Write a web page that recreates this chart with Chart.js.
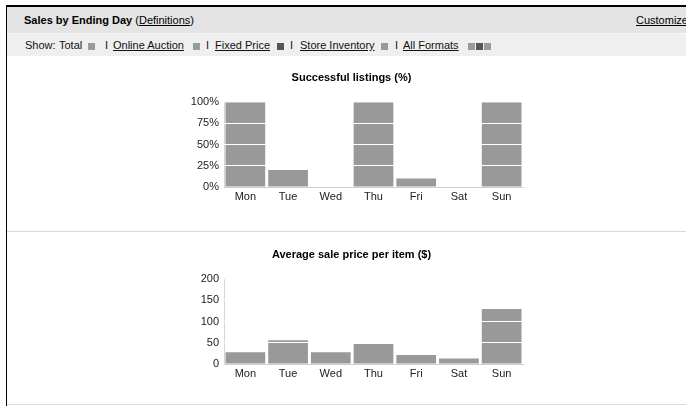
<!DOCTYPE html>
<html>
<head>
<meta charset="utf-8">
<script src="https://cdn.jsdelivr.net/npm/chart.js@4/dist/chart.umd.min.js"></script>
<style>
  html, body { margin: 0; padding: 0; background: #fff; overflow: hidden; }
  body { width: 686px; height: 406px; position: relative; font-family: "Liberation Sans", Arial, sans-serif; color: #000; }
  .frame { position: absolute; left: 6px; top: 5px; width: 760px; height: 420px; border-left: 1px solid #000; border-top: 2px solid #000; }
  .head { position: absolute; left: 0; top: 0; width: 100%; height: 26px; background: #e4e4e4; border-bottom: 1px solid #f7f7f7; }
  .head .t { position: absolute; left: 17px; top: 7px; font-size: 11px; }
  .head b { font-weight: bold; }
  .head .cust { position: absolute; left: 629px; top: 7px; font-size: 11px; }
  .show { position: absolute; left: 0; top: 27px; width: 100%; height: 22px; background: #efefef; font-size: 11px; color: #111; }
  .show span { position: absolute; top: 5px; white-space: nowrap; }
  .show .sq { top: 9px; width: 7px; height: 7px; background: #9a9a9a; }
  .show .sq.dk { background: #555; }
  u { text-decoration: underline; }
  .rule { position: absolute; left: 0; width: 100%; height: 1px; background: #d9d9d9; }
  canvas { position: absolute; }
</style>
</head>
<body>
<div class="frame">
  <div class="head">
    <span class="t"><b>Sales by Ending Day</b> (<u>Definitions</u>)</span>
    <span class="cust"><u>Customize</u></span>
  </div>
  <div class="show">
    <span style="left:18px">Show:</span>
    <span style="left:52px">Total</span>
    <span class="sq" style="left:81px"></span>
    <span style="left:98px">I</span>
    <span style="left:106px"><u>Online Auction</u></span>
    <span class="sq" style="left:186px"></span>
    <span style="left:199px">I</span>
    <span style="left:208px"><u>Fixed Price</u></span>
    <span class="sq dk" style="left:270px"></span>
    <span style="left:283px">I</span>
    <span style="left:293px"><u>Store Inventory</u></span>
    <span class="sq" style="left:374px"></span>
    <span style="left:388px">I</span>
    <span style="left:396px"><u>All Formats</u></span>
    <span class="sq" style="left:461px"></span>
    <span class="sq dk" style="left:469px"></span>
    <span class="sq" style="left:477px"></span>
  </div>
  <div class="rule" style="top:224px"></div>
  <div class="rule" style="top:397px"></div>
</div>
<canvas id="pct" width="360" height="150" style="left:180px;top:60px"></canvas>
<canvas id="price" width="360" height="150" style="left:180px;top:237px"></canvas>
<script>
const days = ['Mon', 'Tue', 'Wed', 'Thu', 'Fri', 'Sat', 'Sun'];
const successPct = [100, 20, 0, 100, 10, 0, 100];
const avgPrice = [28, 56, 28, 47, 21, 13, 130];
const pctTicks = [0, 25, 50, 75, 100];
const priceTicks = [0, 50, 100, 150, 200];

const FONT = '"Liberation Sans", Arial, sans-serif';
const NONE = 'rgba(0,0,0,0)';

function dayChart(id, title, values, ticks, fmt) {
  const top = ticks[ticks.length - 1];
  return new Chart(document.getElementById(id), {
    type: 'bar',
    data: {
      labels: days,
      datasets: [{
        data: values,
        backgroundColor: '#999999',
        borderWidth: 0,
        barPercentage: 0.93,
        categoryPercentage: 1
      }]
    },
    options: {
      responsive: false,
      animation: false,
      devicePixelRatio: 1,
      layout: { padding: { left: 0, right: 17, top: 0, bottom: 0 } },
      plugins: {
        legend: { display: false },
        tooltip: { enabled: false },
        title: {
          display: true,
          text: title,
          color: '#000',
          font: { family: FONT, size: 11, weight: 'bold' },
          padding: { top: 11, bottom: 18 }
        }
      },
      scales: {
        x: {
          // only the first category edge is kept: it serves as the left axis line
          grid: { offset: true, drawTicks: false, color: c => c.index === 0 ? '#d6d6d6' : NONE },
          border: { color: '#cfcfcf' },
          ticks: { color: '#222', font: { family: FONT, size: 11 }, padding: 3 },
          afterFit(s) { s.height = 23; }
        },
        y: {
          min: 0,
          max: top,
          afterBuildTicks(s) { s.ticks = ticks.map(v => ({ value: v })); },
          ticks: {
            color: '#222',
            font: { family: FONT, size: 11 },
            padding: 5,
            callback: fmt
          },
          grid: {
            z: 1, // white gridlines sit on top of the bars
            drawTicks: false,
            color: c => (c.tick && c.tick.value > 0 && c.tick.value < top) ? '#ffffff' : NONE,
            lineWidth: 1
          },
          border: { display: false },
          afterFit(s) { s.width = 44; }
        }
      }
    }
  });
}

dayChart('pct', 'Successful listings (%)', successPct, pctTicks, v => v + '%');
dayChart('price', 'Average sale price per item ($)', avgPrice, priceTicks, v => String(v));
</script>
</body>
</html>
